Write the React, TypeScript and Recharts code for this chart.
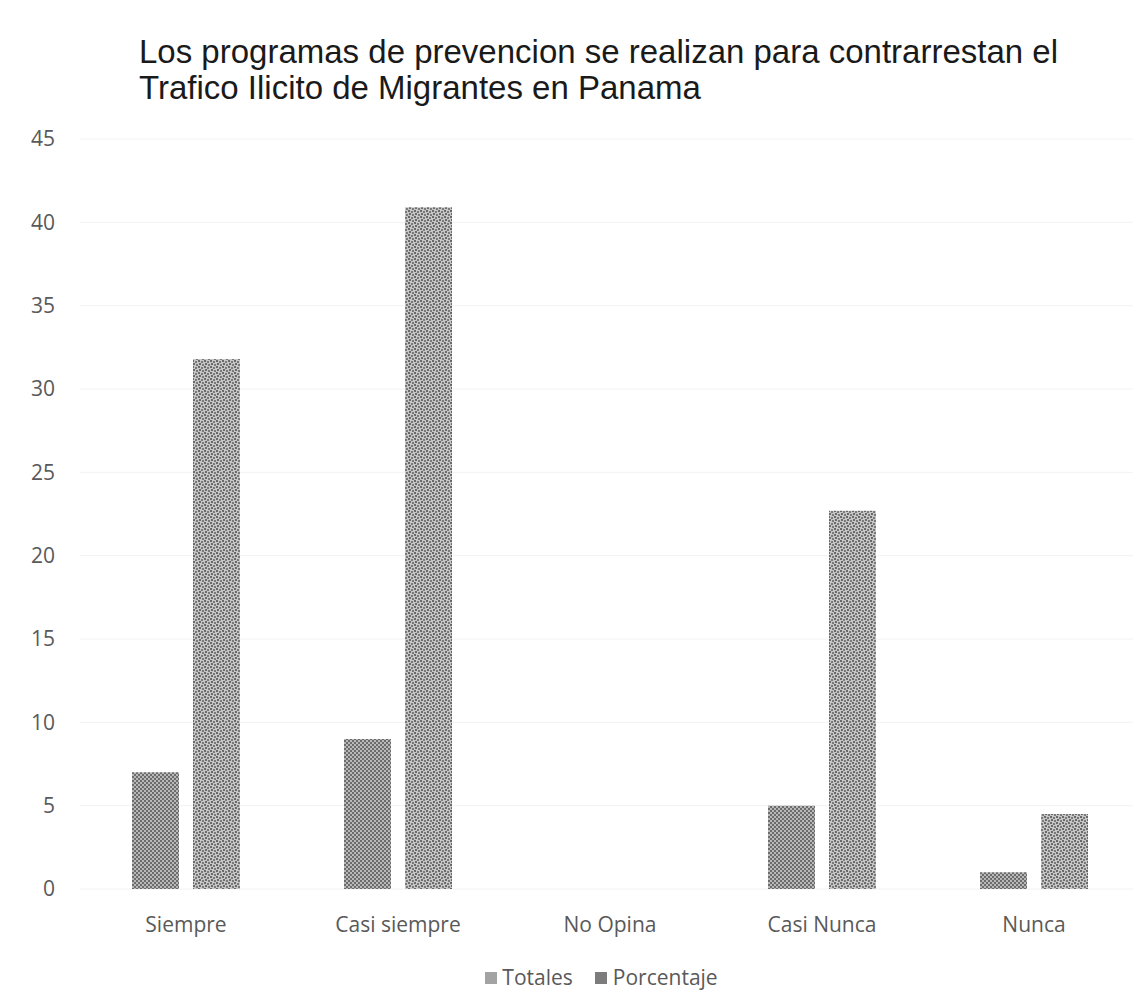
import { BarChart, Bar, XAxis, YAxis, CartesianGrid, Legend } from 'recharts';

const categorias = ['Siempre', 'Casi siempre', 'No Opina', 'Casi Nunca', 'Nunca'];
const totales = [7, 9, 0, 5, 1];
const porcentaje = [31.8, 40.9, 0, 22.7, 4.5];
const yTicks = [0, 5, 10, 15, 20, 25, 30, 35, 40, 45];

const data = categorias.map((name, i) => ({
  name,
  Totales: totales[i],
  Porcentaje: porcentaje[i],
}));

const labelFont = '"Open Sans", "DejaVu Sans", sans-serif';

const LegendContent = () => (
  <div
    style={{
      display: 'flex',
      justifyContent: 'center',
      alignItems: 'center',
      paddingLeft: 70,
      fontFamily: labelFont,
      fontSize: 21,
      lineHeight: '29px',
      color: '#595959',
    }}
  >
    <span style={{ display: 'inline-block', width: 12, height: 12, background: '#a3a3a3', marginRight: 5 }} />
    <span style={{ marginRight: 22 }}>Totales</span>
    <span style={{ display: 'inline-block', width: 12, height: 12, background: '#7c7c7c', marginRight: 6 }} />
    <span>Porcentaje</span>
  </div>
);

export default function App() {
  return (
    <div style={{ position: 'absolute', left: 0, top: 0, width: 1133, height: 1003, background: '#fff' }}>
      <div
        style={{
          position: 'absolute',
          left: 139,
          top: 34,
          fontFamily: '"Liberation Sans", Arial, sans-serif',
          fontSize: 33,
          lineHeight: '36px',
          color: '#1a1a1a',
          whiteSpace: 'nowrap',
        }}
      >
        Los programas de prevencion se realizan para contrarrestan el
        <br />
        Trafico Ilicito de Migrantes en Panama
      </div>
      <BarChart
        width={1133}
        height={1003}
        data={data}
        margin={{ top: 139, right: 0, bottom: 55, left: 0 }}
        barSize={47}
        barGap={14}
      >
        <defs>
          <pattern id="pTot" width="4" height="4" patternUnits="userSpaceOnUse">
            <rect width="4" height="4" fill="#b8b8b8" />
            <rect x="0" y="0" width="2" height="2" fill="#6c6c6c" />
            <rect x="2" y="2" width="2" height="2" fill="#6c6c6c" />
          </pattern>
          <pattern id="pPct" width="6" height="6" patternUnits="userSpaceOnUse">
            <rect width="6" height="6" fill="#c6c6c6" />
            <rect x="0" y="0" width="2" height="2" fill="#6a6a6a" />
            <rect x="3" y="1" width="2" height="2" fill="#7a7a7a" />
            <rect x="1" y="3" width="2" height="2" fill="#6a6a6a" />
            <rect x="4" y="4" width="2" height="2" fill="#7a7a7a" />
          </pattern>
        </defs>
        <CartesianGrid vertical={false} stroke="#f2f2f2" />
        <XAxis
          dataKey="name"
          height={30}
          axisLine={false}
          tickLine={false}
          tickMargin={22}
          padding={{ left: 0, right: -7 }}
          interval={0}
          tick={{ fill: '#595959', fontSize: 21, fontFamily: labelFont }}
        />
        <YAxis
          width={80}
          domain={[0, 45]}
          ticks={yTicks}
          axisLine={false}
          tickLine={false}
          tickMargin={19}
          tick={{ fill: '#595959', fontSize: 21, fontFamily: labelFont }}
        />
        <Legend
          content={<LegendContent />}
          wrapperStyle={{ position: 'absolute', left: 0, top: 963, width: 1133 }}
        />
        <Bar dataKey="Totales" fill="url(#pTot)" isAnimationActive={false} />
        <Bar dataKey="Porcentaje" fill="url(#pPct)" isAnimationActive={false} />
      </BarChart>
    </div>
  );
}
